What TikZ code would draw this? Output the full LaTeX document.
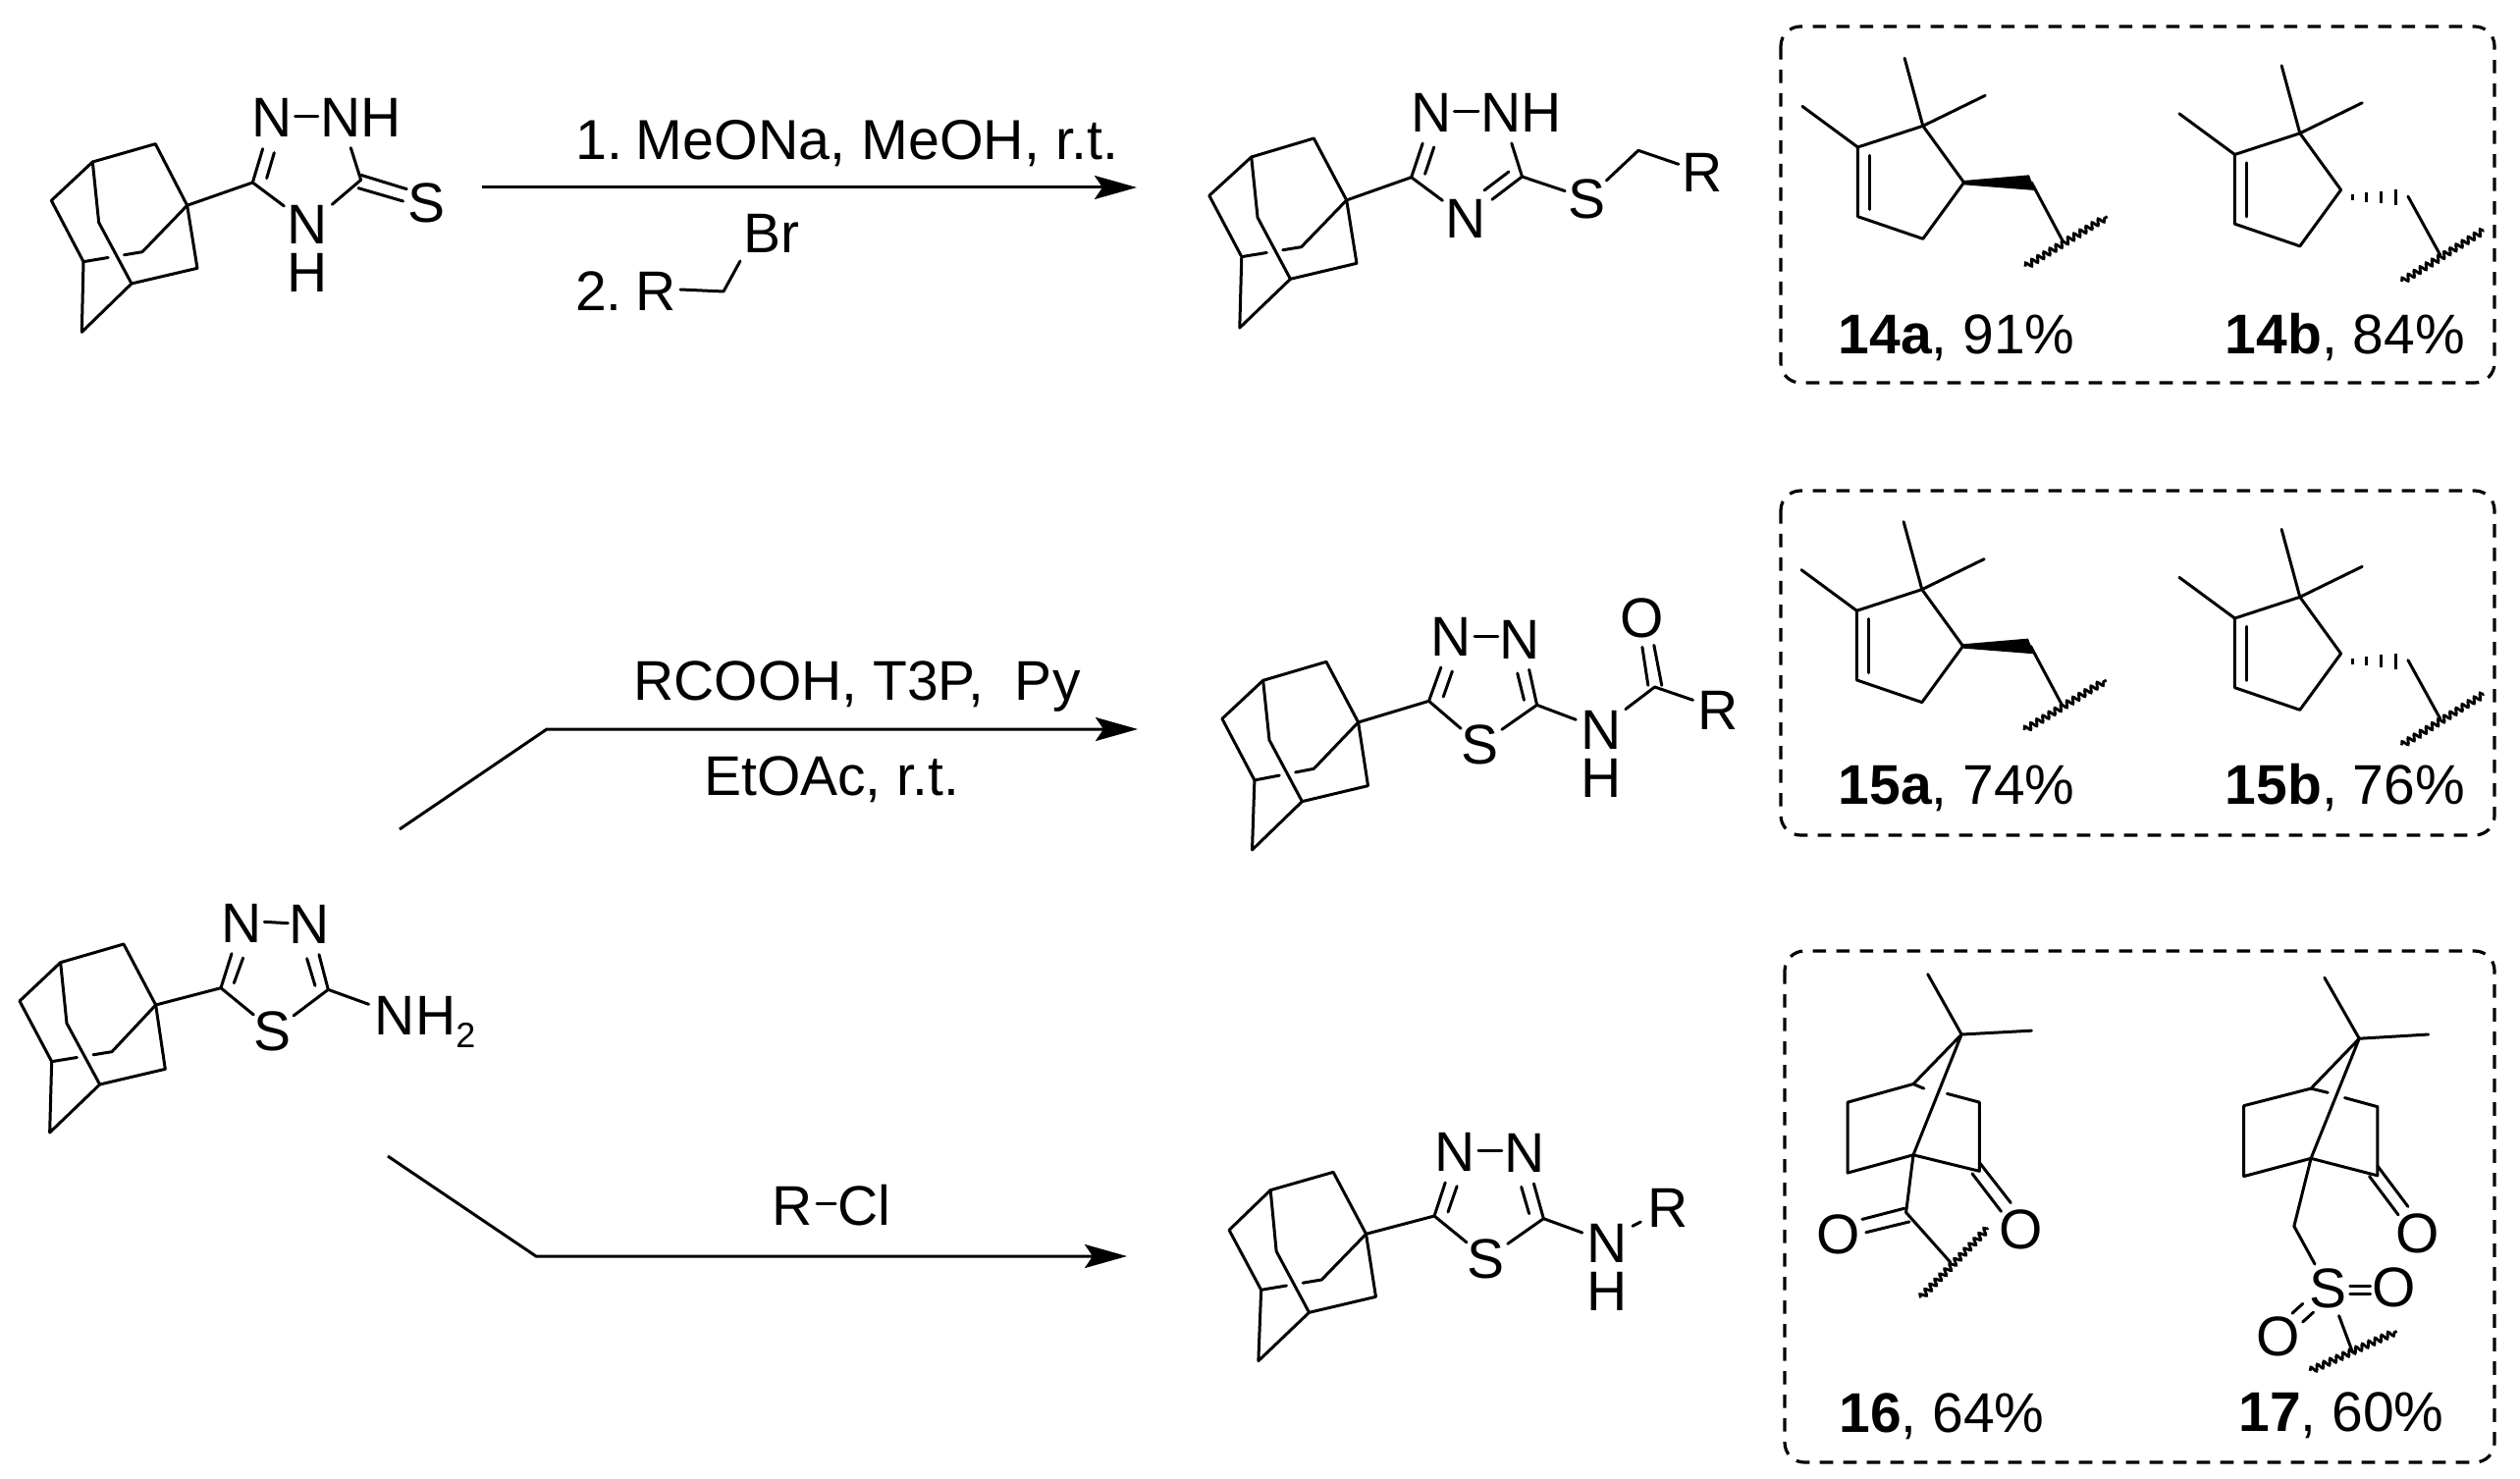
\documentclass[tikz,border=0pt]{standalone}
\usepackage{fontspec}
\setmainfont{Liberation Sans}
\usetikzlibrary{arrows.meta,calc,decorations.pathmorphing}
\tikzset{
  crop/.style n args={4}{xshift=#1*0.5pt,yshift=-#2*0.5pt,x=0.5pt/#3,y=-0.5pt/#4},
  bond/.style={line width=1.5pt,line cap=round,line join=round,black},
  hashbar/.style={line width=1.5pt,black},
  wavy/.style={line width=1.4pt,black,decorate,decoration={snake,amplitude=1.5pt,segment length=3.6pt}},
  atom/.style={inner sep=0pt,outer sep=0pt,font=\fontsize{28.5}{30}\selectfont},
  stack/.style={inner sep=0pt,outer sep=0pt,align=center,font=\fontsize{28.5}{24.5}\selectfont},
  lab/.style={inner sep=0pt,outer sep=0pt,anchor=base,font=\fontsize{28.5}{30}\selectfont},
  rarrow/.style={line width=1.5pt,black,-{Stealth[length=21.5pt,width=12pt,inset=4pt]}},
  dbox/.style={line width=1.6pt,black,rounded corners=10pt,dash pattern=on 6.8pt off 5.2pt}
}
\newcommand{\adamdraw}{%
  \draw[bond] (B)--(A)--(H)--(G)--(F)--(E)--(D)--(C)--cycle;
  \draw[bond] (B)--(I)--(F);
  \draw[bond] (H)--(J)--($(D)!.69!(J)$);
  \draw[bond] ($(D)!.42!(J)$)--(D);
}
\newcommand{\terpring}{%
  \draw[bond] (323,385)--(188,450)--(188,662)--(323,730)--(408,558)--cycle;
  \draw[bond] (285,178)--(323,385)--(452,292);
  \draw[bond] (73,325)--(188,450);
  \draw[bond] (213,475)--(213,640);
}
\newcommand{\terpA}{%
  \terpring
  \fill[black] (408,552)--(543,535)--(555,582)--(408,565)--cycle;
  \draw[bond] (548,558)--(612,735);
  \draw[wavy] (535,815)--(705,662);
}
\newcommand{\terpB}{%
  \terpring
  \draw[hashbar] (432,572)--(432,590) (461,567)--(461,595) (491,562)--(491,600) (521,557)--(521,605);
  \draw[bond] (547,578)--(614,758);
  \draw[wavy] (534,838)--(704,682);
}
\begin{document}
\begin{tikzpicture}[x=0.5pt,y=-0.5pt]
\useasboundingbox (0,0) rectangle (2567,1507);
\fill[white] (0,0) rectangle (2567,1507);

% dashed boxes
\draw[dbox] (1814,27) rectangle (2541,390);
\draw[dbox] (1814,500) rectangle (2541,851);
\draw[dbox] (1818,969) rectangle (2541,1490);

% arrows
\coordinate (a1s) at (491,191);
\coordinate (a1e) at (1158,191);
\draw[rarrow] (a1s)--(a1e);
\coordinate (a2s) at (407,845);
\coordinate (a2m) at (557,743);
\coordinate (a2e) at (1159,743);
\draw[rarrow] (a2s)--(a2m)--(a2e);
\coordinate (a3s) at (395,1178);
\coordinate (a3m) at (546,1280);
\coordinate (a3e) at (1148,1280);
\draw[rarrow] (a3s)--(a3m)--(a3e);

% reagents
\node[atom,anchor=base east,font=\fontsize{28.7}{30}\selectfont] (r1) at (1139,163) {1.\kern-1.3pt\ MeONa, MeOH, r.t.};
\node[atom,anchor=base west] (r2) at (586,317) {2.\kern-0.7pt\ R};
\node[atom,anchor=base west] (r2br) at (757,258) {Br};
\path (693,295) coordinate (r2a) (737,297) coordinate (r2b) (754,266) coordinate (r2c);
\draw[bond] (r2a)--(r2b)--(r2c);
\node[lab] (r3) at (873,713) {RCOOH, T3P,\ \ Py};
\node[lab] (r4) at (847,810) {EtOAc, r.t.};
\node[atom,anchor=base west] (r5) at (786,1248) {R};
\node[atom,anchor=base east] (r6) at (907,1248) {Cl};
\path (832,1226) coordinate (r5b) (851,1226) coordinate (r6b);
\draw[bond] (r5b)--(r6b);

% top-left thione
\begin{scope}[crop={0}{50}{3}{3}]
  \path (475,290) coordinate (A) (283,345) coordinate (B) (157,463) coordinate (C) (255,650) coordinate (D)
        (250,865) coordinate (E) (402,717) coordinate (F) (603,670) coordinate (G) (572,478) coordinate (H)
        (302,530) coordinate (I) (435,620) coordinate (J);
  \adamdraw
  \node[atom] (t1) at (830,210) {N};
  \node[atom] (t2) at (1102,210) {NH};
  \node[stack] (t3) at (938,610) {N\\H};
  \node[atom] (t5) at (1305,472) {S};
  \draw[bond] (902,207)--(972,207);
  \draw[bond] (572,478)--(772,408)--(803,305) (815,395)--(838,317);
  \draw[bond] (772,408)--(868,480);
  \draw[bond] (1072,302)--(1103,400)--(1015,475);
  \draw[bond] (1103,385)--(1243,428) (1095,425)--(1232,465);
\end{scope}

% top product
\begin{scope}[crop={1200}{60}{2.516}{3}]
  \path (348,243) coordinate (A) (188,300) coordinate (B) (80,418) coordinate (C) (163,605) coordinate (D)
        (158,822) coordinate (E) (288,673) coordinate (F) (458,625) coordinate (G) (432,432) coordinate (H)
        (204,485) coordinate (I) (316,575) coordinate (J);
  \adamdraw
  \node[atom] (p1) at (650,165) {N};
  \node[atom] (p2) at (880,165) {NH};
  \node[atom] (p3) at (738,490) {N};
  \node[atom] (p4) at (1048,428) {S};
  \node[atom] (p5) at (1345,348) {R};
  \draw[bond] (708,160)--(770,160);
  \draw[bond] (432,432)--(598,362)--(627,258) (633,352)--(656,270);
  \draw[bond] (598,362)--(678,433);
  \draw[bond] (855,258)--(882,360)--(805,430) (848,345)--(785,402);
  \draw[bond] (882,360)--(992,404);
  \draw[bond] (1098,372)--(1180,280)--(1283,322);
\end{scope}

% middle product
\begin{scope}[crop={1200}{580}{2.516}{3}]
  \path (380,283) coordinate (A) (218,340) coordinate (B) (113,457) coordinate (C) (196,645) coordinate (D)
        (190,858) coordinate (E) (318,710) coordinate (F) (487,662) coordinate (G) (462,468) coordinate (H)
        (234,522) coordinate (I) (348,610) coordinate (J);
  \adamdraw
  \node[atom] (m1) at (700,207) {N};
  \node[atom] (m2) at (875,215) {N};
  \node[atom] (m3) at (775,537) {S};
  \node[stack] (m4) at (1085,566) {N\\H};
  \node[atom] (m6) at (1190,150) {O};
  \node[atom] (m7) at (1385,432) {R};
  \draw[bond] (760,207)--(820,207);
  \draw[bond] (462,468)--(643,403)--(674,300) (680,390)--(703,312);
  \draw[bond] (643,403)--(725,487);
  \draw[bond] (830,490)--(920,415)--(900,307) (887,400)--(870,318);
  \draw[bond] (920,415)--(1020,460);
  \draw[bond] (1147,428)--(1222,360)--(1320,400);
  \draw[bond] (1240,355)--(1220,232) (1205,355)--(1190,238);
\end{scope}

% amino thiadiazole
\begin{scope}[crop={0}{900}{3}{3}]
  \path (378,186) coordinate (A) (185,242) coordinate (B) (60,360) coordinate (C) (158,545) coordinate (D)
        (152,762) coordinate (E) (305,615) coordinate (F) (505,568) coordinate (G) (476,372) coordinate (H)
        (204,428) coordinate (I) (342,515) coordinate (J);
  \adamdraw
  \node[atom] (s1) at (738,122) {N};
  \node[atom] (s2) at (945,125) {N};
  \node[atom] (s3) at (832,453) {S};
  \node[atom,anchor=base west] (s4) at (1146,465) {NH{\fontsize{18}{18}\selectfont\raisebox{-6.5pt}{2}}};
  \draw[bond] (808,118)--(880,122);
  \draw[bond] (476,372)--(675,320)--(708,215) (715,305)--(743,228);
  \draw[bond] (675,320)--(775,402);
  \draw[bond] (897,405)--(1003,325)--(975,218) (963,313)--(938,230);
  \draw[bond] (1003,325)--(1127,370);
\end{scope}

% bottom product
\begin{scope}[crop={1200}{1130}{2.516}{3}]
  \path (398,193) coordinate (A) (237,248) coordinate (B) (131,370) coordinate (C) (213,553) coordinate (D)
        (206,770) coordinate (E) (336,622) coordinate (F) (507,574) coordinate (G) (482,382) coordinate (H)
        (252,435) coordinate (I) (368,522) coordinate (J);
  \adamdraw
  \node[atom] (b1) at (710,132) {N};
  \node[atom] (b2) at (888,134) {N};
  \node[atom] (b3) at (790,460) {S};
  \node[stack] (b4) at (1100,484) {N\\H};
  \node[atom] (b6) at (1255,303) {R};
  \draw[bond] (770,128)--(830,128);
  \draw[bond] (482,382)--(657,327)--(685,225) (692,315)--(715,236);
  \draw[bond] (657,327)--(740,408);
  \draw[bond] (845,412)--(937,335)--(912,228) (900,320)--(880,238);
  \draw[bond] (937,335)--(1036,378);
  \draw[bond] (1165,358)--(1186,345);
\end{scope}

% 14a, 14b
\begin{scope}[crop={1800}{0}{2.034}{3}]
  \terpA
  \node[lab] (l14a) at (393,1082) {\textbf{14a}, 91\%};
  \node[lab] (l14b) at (1198,1082) {\textbf{14b}, 84\%};
\end{scope}
\begin{scope}[crop={2184}{7.5}{2.034}{3}]
  \terpB
\end{scope}

% 15a, 15b
\begin{scope}[crop={1799}{472.3}{2.034}{3}]
  \terpA
\end{scope}
\begin{scope}[crop={2184}{480}{2.034}{3}]
  \terpB
\end{scope}
\begin{scope}[crop={1800}{490}{2.034}{3}]
  \node[lab] (l15a) at (393,990) {\textbf{15a}, 74\%};
  \node[lab] (l15b) at (1198,990) {\textbf{15b}, 76\%};
\end{scope}

% 16, 17
\begin{scope}[crop={1800}{960}{2.034}{2.85}]
  \draw[bond] (333,93)--(403,268)--(548,257);
  \draw[bond] (403,268)--(303,412)--(167,465)--(167,670)--(303,618)--cycle;
  \draw[bond] (303,412)--(325,425) (373,440)--(440,465)--(440,665)--(303,618);
  \draw[bond] (440,640)--(505,757) (425,672)--(485,782);
  \node[atom] (o1) at (527,835) {O};
  \draw[bond] (303,618)--(288,785)--(380,930);
  \draw[bond] (285,773)--(197,805) (295,812)--(205,843);
  \node[atom] (o2) at (147,850) {O};
  \draw[wavy] (318,1033)--(458,830);
  \node[lab] (l16) at (362,1425) {\textbf{16}, 64\%};

  \draw[bond] (1155,103)--(1227,280)--(1370,268);
  \draw[bond] (1227,280)--(1127,425)--(988,475)--(988,680)--(1127,628)--cycle;
  \draw[bond] (1127,425)--(1162,437) (1197,452)--(1265,478)--(1265,678)--(1127,628);
  \draw[bond] (1265,650)--(1328,768) (1248,680)--(1308,792);
  \node[atom] (o3) at (1348,845) {O};
  \draw[bond] (1127,628)--(1092,825)--(1135,935);
  \node[atom] (s17) at (1162,1005) {S};
  \node[atom] (o4) at (1300,1003) {O};
  \node[atom] (o5) at (1060,1145) {O};
  \draw[bond] (1208,1000)--(1250,1000) (1208,1022)--(1250,1022);
  \draw[bond] (1088,1078)--(1110,1050) (1110,1103)--(1132,1075);
  \draw[bond] (1185,1085)--(1213,1190);
  \draw[wavy] (1125,1245)--(1305,1130);
  \node[lab] (l17) at (1190,1422) {\textbf{17}, 60\%};
\end{scope}
\end{tikzpicture}
\end{document}
